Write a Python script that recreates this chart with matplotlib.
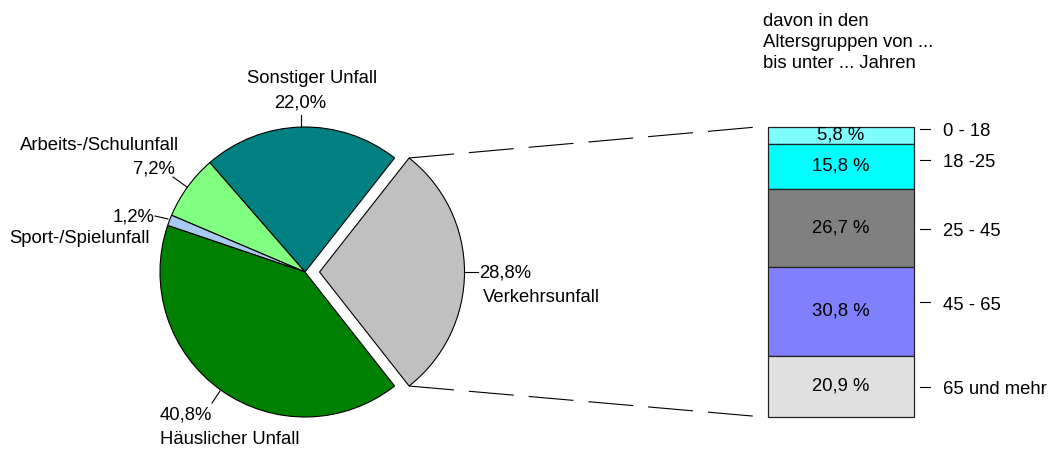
import matplotlib
matplotlib.use("Agg")
import matplotlib.pyplot as plt
import numpy as np

plt.rcParams['font.family'] = ['Liberation Sans', 'DejaVu Sans']

# ---- data ----
pie_labels = ["Verkehrsunfall", "Sonstiger Unfall", "Arbeits-/Schulunfall",
              "Sport-/Spielunfall", "Häuslicher Unfall"]
pie_values = [28.8, 22.0, 7.2, 1.2, 40.8]
pie_value_text = ["28,8%", "22,0%", "7,2%", "1,2%", "40,8%"]

age_groups = ["0 - 18", "18 -25", "25 - 45", "45 - 65", "65 und mehr"]
age_values = [5.8, 15.8, 26.7, 30.8, 20.9]
age_value_text = ["5,8 %", "15,8 %", "26,7 %", "30,8 %", "20,9 %"]

title_text = "davon in den\nAltersgruppen von ...\nbis unter ... Jahren"

# ---- styles / layout ----
pie_colors = ["#C0C0C0", "#008080", "#80FF80", "#A6CAF0", "#008000"]
age_colors = ["#80FFFF", "#00FFFF", "#808080", "#8080FF", "#E0E0E0"]
age_label_pos = [1.8, 12.5, 36.3, 61.5, 90.6]   # label centres in bar-axis units
FS = 13.3
W, H = 1049, 451

fig = plt.figure(figsize=(W / 100, H / 100), dpi=100)
ax0 = fig.add_axes([0, 0, 1, 1])

def Y(ypx):
    return H - ypx

start = -pie_values[0] / sum(pie_values) * 360 / 2
wedges, _ = ax0.pie(pie_values, colors=pie_colors, startangle=start,
                    counterclock=True, explode=[14.5, 0, 0, 0, 0],
                    center=(305, Y(272)), radius=145,
                    wedgeprops=dict(edgecolor="black", linewidth=0.8))
ax0.set_xlim(0, W)
ax0.set_ylim(0, H)
ax0.set_aspect("equal")
ax0.axis("off")

def lbl(x, y, s):
    ax0.text(x, Y(y), s, ha="left", va="baseline", fontsize=FS)

def leader(x1, y1, x2, y2):
    ax0.plot([x1, x2], [Y(y1), Y(y2)], color="black", lw=0.8)

# Sonstiger
lbl(247, 83, pie_labels[1]); lbl(274, 108, pie_value_text[1]); leader(301, 115, 301, 127)
# Arbeits
lbl(20, 150, pie_labels[2]); lbl(133, 173, pie_value_text[2]); leader(173, 177, 187, 187)
# Sport
lbl(113, 222, pie_value_text[3]); lbl(9, 243, pie_labels[3]); leader(155, 216, 168, 219)
# Verkehr
lbl(479, 278, pie_value_text[0]); lbl(483, 302, pie_labels[0]); leader(464, 272, 478, 272)
# Häuslich
lbl(160, 420, pie_value_text[4]); lbl(160, 444, pie_labels[4]); leader(212, 403, 220, 391)

# title
ax0.text(763, Y(13), title_text, ha="left", va="top", fontsize=FS, linespacing=1.32)

# stacked bar
bx0, bx1, by0, by1 = 768, 913.7, 126.7, 416.7
axb = fig.add_axes([bx0 / W, (H - by1) / H, (bx1 - bx0) / W, (by1 - by0) / H])
bottom = 0
for v, c, t in zip(age_values, age_colors, age_value_text):
    axb.bar(0.5, v, bottom=bottom, width=1.0, color=c, edgecolor="#222222",
            linewidth=0.9, clip_on=False)
    axb.text(0.5, bottom + v / 2, t, ha="center", va="center", fontsize=FS)
    bottom += v
axb.set_xlim(0, 1)
axb.set_ylim(sum(age_values), 0)
axb.axis("off")

for cy, g in zip(age_label_pos, age_groups):
    axb.plot([1.043, 1.112], [cy - 1.0, cy - 1.0], color="black", lw=0.8, clip_on=False)
    axb.text(1.2, cy, g, ha="left", va="center", fontsize=FS)

# dashed connector lines
w = wedges[0]
cx, cy = w.center
r = w.r
p_up = (cx + r * np.cos(np.radians(w.theta2)), cy + r * np.sin(np.radians(w.theta2)))
p_lo = (cx + r * np.cos(np.radians(w.theta1)), cy + r * np.sin(np.radians(w.theta1)))
inv = ax0.transData.inverted()
q_up = inv.transform(axb.transAxes.transform((-0.055, 1.0)))
q_lo = inv.transform(axb.transAxes.transform((-0.055, 0.0)))
for p, q in [(p_up, q_up), (p_lo, q_lo)]:
    ax0.plot([p[0], q[0]], [p[1], q[1]], color="black", lw=0.8,
             linestyle=(0, (40.5, 13.5)))

fig.savefig("out.png", dpi=100)
